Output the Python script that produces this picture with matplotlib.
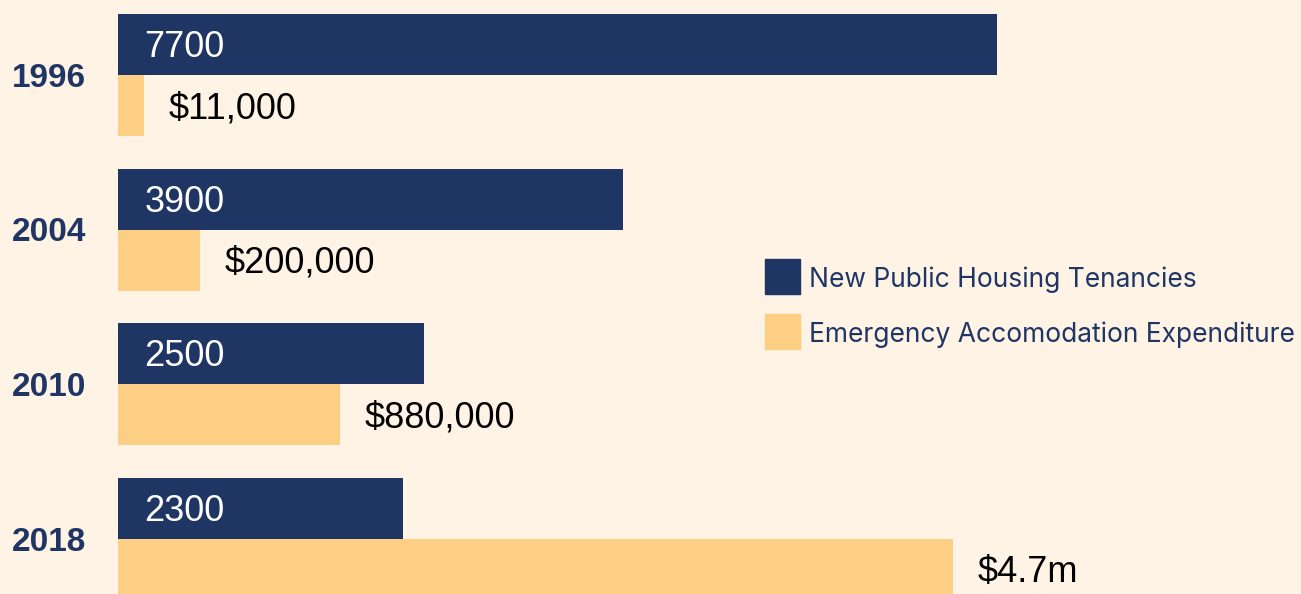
import matplotlib.pyplot as plt
from matplotlib.patches import Rectangle
from matplotlib.transforms import blended_transform_factory, offset_copy

# data (bar lengths are in the chart's own display units)
years = ["1996", "2004", "2010", "2018"]
tenancy_labels = ["7700", "3900", "2500", "2300"]
expense_labels = ["$11,000", "$200,000", "$880,000", "$4.7m"]
tenancy_bars = [879, 505, 306, 285]
expense_bars = [26, 82, 222, 835]
series_names = ["New Public Housing Tenancies", "Emergency Accomodation Expenditure"]

NAVY = "#1F3564"
YELLOW = "#FDCF85"
BG = "#FEF3E5"

W, H = 1301, 594
fig = plt.figure(figsize=(W / 100, H / 100), dpi=100)
fig.patch.set_facecolor(BG)

ax = fig.add_axes([118 / W, 0, 1 - 118 / W, 1])
ax.set_facecolor(BG)

step = 154.67
bh = 61 / step
pos = list(range(len(years)))

ax.barh([p - bh / 2 for p in pos], tenancy_bars, height=bh, color=NAVY, align="center")
ax.barh([p + bh / 2 for p in pos], expense_bars, height=bh, color=YELLOW, align="center")

ax.set_xlim(0, W - 118)
ax.set_ylim((594 - 75) / step, -75 / step)
ax.axis("off")

value_font = ["Liberation Sans", "DejaVu Sans"]
for p, v, lab in zip(pos, tenancy_bars, tenancy_labels):
    ax.annotate(lab, (0, p - bh / 2), xytext=(19, -2.2), textcoords="offset points",
                ha="left", va="center", color="white", fontsize=26, family=value_font)
for p, v, lab in zip(pos, expense_bars, expense_labels):
    ax.annotate(lab, (v, p + bh / 2), xytext=(18, -2.2), textcoords="offset points",
                ha="left", va="center", color="black", fontsize=26, family=value_font)

# year labels on the left, in figure x / data y
tr = blended_transform_factory(fig.transFigure, ax.transData)
tr = offset_copy(tr, fig=fig, y=-2.2, units="points")
for p, y in zip(pos, years):
    fig.text(86 / W, p, y, transform=tr, ha="right", va="center",
             color=NAVY, fontsize=24, fontweight="bold", family=value_font)

# legend drawn by hand
for i, (name, col) in enumerate(zip(series_names, [NAVY, YELLOW])):
    top = 259 + i * 55
    fig.patches.append(Rectangle((765 / W, 1 - (top + 35) / H), 35 / W, 35 / H,
                                 transform=fig.transFigure, color=col))
    fig.text(809 / W, 1 - (top + 21) / H, name, ha="left", va="center",
             color=NAVY, fontsize=19, family=["Inter", "DejaVu Sans"])

fig.savefig("out.png", dpi=100, facecolor=BG)
